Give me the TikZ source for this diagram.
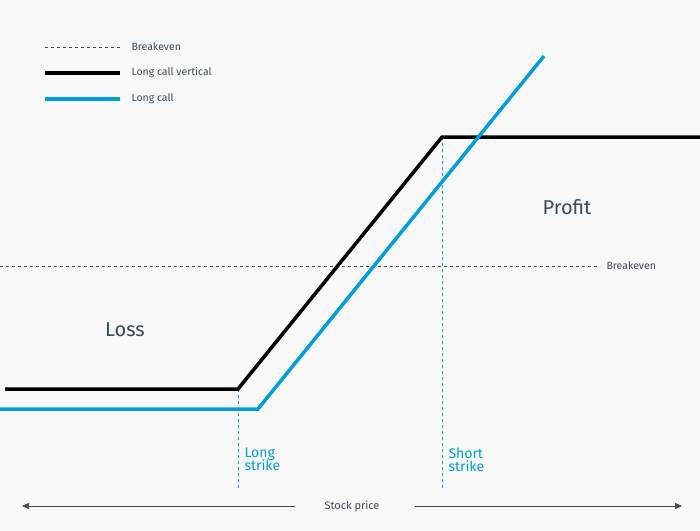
\documentclass[tikz,border=0pt]{standalone}
\usepackage{fontspec}
\setmainfont{Fira Sans}
\usepackage{xcolor}
\usetikzlibrary{arrows.meta}
\definecolor{callblue}{HTML}{009FDB}
\definecolor{inkgray}{HTML}{3B4A5C}
\definecolor{paper}{HTML}{F8F8F9}
\tikzset{
  payoff/.style={line width=3.5pt},
  evenline/.style={inkgray,dashed,line width=0.6pt},
  strikeline/.style={callblue,dashed,line width=0.8pt},
  legendtext/.style={inkgray,anchor=west,font=\fontsize{10.5}{12}\selectfont},
  zonetext/.style={inkgray,font=\fontsize{20}{24}\selectfont},
  striketext/.style={callblue,anchor=north west,align=left,font=\fontsize{14}{16}\selectfont},
}
\begin{document}
\begin{tikzpicture}[x=1pt,y=-1pt]
  \fill[paper] (0,0) rectangle (700,530);
  \useasboundingbox (0,0) rectangle (700,530);

  % legend
  \coordinate (bkA) at (45,47);  \coordinate (bkB) at (120,47);
  \coordinate (lvA) at (45,73);  \coordinate (lvB) at (120,73);
  \coordinate (lcA) at (45,99);  \coordinate (lcB) at (120,99);
  \draw[evenline] (bkA) -- (bkB);
  \draw[payoff,black] (lvA) -- (lvB);
  \draw[payoff,callblue] (lcA) -- (lcB);
  \node[legendtext] (bkT) at (128,47) {Breakeven};
  \node[legendtext] (lvT) at (128,73) {Long call vertical};
  \node[legendtext] (lcT) at (128,99) {Long call};

  % breakeven
  \coordinate (evA) at (0,266);
  \coordinate (evB) at (600,266);
  \draw[evenline] (evA) -- (evB);
  \node[legendtext] (evT) at (603,266) {Breakeven};

  % strikes
  \coordinate (ksLong) at (238,389);
  \coordinate (ksLongEnd) at (238,490);
  \coordinate (ksShort) at (442,137);
  \coordinate (ksShortEnd) at (442,490);
  \draw[strikeline] (ksLong) -- (ksLongEnd);
  \draw[strikeline] (ksShort) -- (ksShortEnd);
  \node[striketext] (lsT) at (241,444) {Long\\[-3pt]strike};
  \node[striketext] (ssT) at (445,444) {Short\\[-3pt]strike};

  % payoffs
  \coordinate (vStart) at (5,389);
  \coordinate (vEnd) at (700,137);
  \draw[payoff,black,line join=miter] (vStart) -- (ksLong) -- (ksShort) -- (vEnd);
  \coordinate (cStart) at (0,409);
  \coordinate (cKnee) at (258,409);
  \coordinate (cEnd) at (544,56);
  \draw[payoff,callblue,line join=miter] (cStart) -- (cKnee) -- (cEnd);

  \node[zonetext] (loss) at (125,330) {Loss};
  \node[zonetext] (profit) at (567,207) {Profit};

  % axis
  \node[inkgray,font=\fontsize{11}{13}\selectfont] (axisT) at (352,506) {Stock price};
  \coordinate (axL) at (22,506);
  \coordinate (axR) at (682,506);
  \draw[inkgray,line width=0.7pt,-{Triangle[length=7pt,width=6pt]}] (295,506) -- (axL);
  \draw[inkgray,line width=0.7pt,-{Triangle[length=7pt,width=6pt]}] (415,506) -- (axR);
\end{tikzpicture}
\end{document}
